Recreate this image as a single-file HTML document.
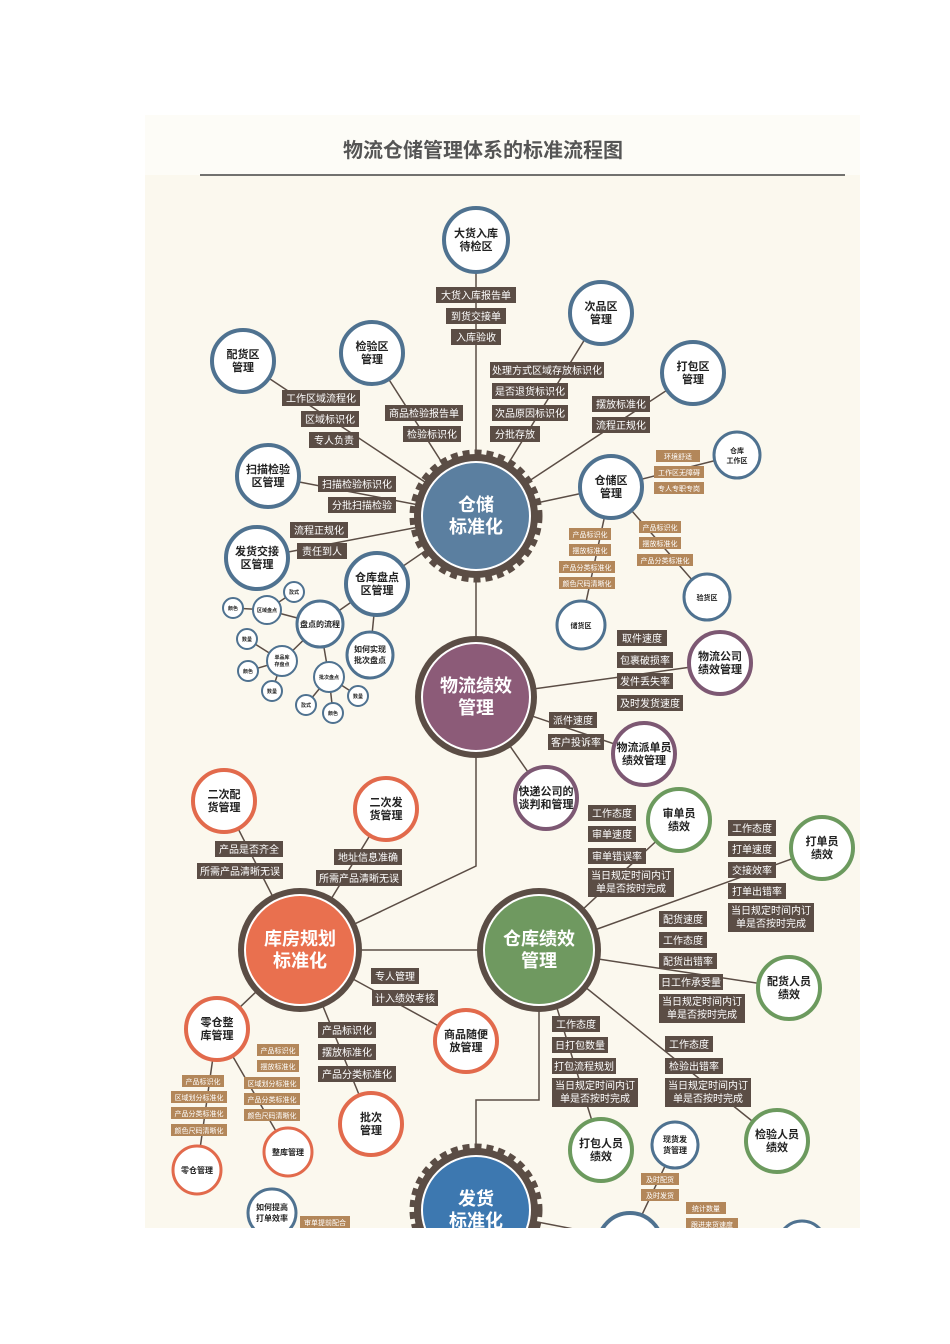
<!DOCTYPE html>
<html><head><meta charset="utf-8"><style>
html,body{margin:0;padding:0;background:#fff;width:950px;height:1344px;overflow:hidden}
svg{display:block}
text{font-family:"Liberation Sans","Noto Sans CJK SC",sans-serif;text-anchor:middle}
.lb rect{fill:#5b4d45}
.lb text{fill:#fff;font-size:10px}
.tn rect{fill:#b3875a}
.tn text{fill:#fff;font-size:7px}
.ln line,.ln polyline{stroke:#5b4d45;stroke-width:1.5;fill:none}
.s circle{fill:#fff;stroke-width:4}
.s text{fill:#222;font-size:11px;font-weight:bold}
.ss text{font-size:7px}
.b circle{stroke:#4f7290}.p circle{stroke:#7d5873}.o circle{stroke:#e26a4c}.g circle{stroke:#6c9a5e}.bb circle{stroke:#3f78ad}
.m text{fill:#fff;font-size:18px;font-weight:bold}
</style></head><body>
<svg width="950" height="1344" viewBox="0 0 950 1344">
<defs><clipPath id="c"><rect x="145" y="115" width="715" height="1113"/></clipPath></defs>
<g clip-path="url(#c)">
<rect x="145" y="115" width="715" height="1113" fill="#fbf8ee"/>
<rect x="145" y="115" width="715" height="60" fill="#fdfcf7"/>
<text x="483" y="157" style="font-size:20px;font-weight:bold;fill:#555">物流仓储管理体系的标准流程图</text>
<line x1="200" y1="175" x2="845" y2="175" stroke="#444" stroke-width="1.5"/>

<g class="ln">
<line x1="476" y1="516" x2="476" y2="240"/><line x1="476" y1="516" x2="601" y2="313"/>
<line x1="476" y1="516" x2="243" y2="361"/><line x1="476" y1="516" x2="372" y2="353"/>
<line x1="476" y1="516" x2="693" y2="373"/><line x1="476" y1="516" x2="611" y2="487"/>
<line x1="476" y1="516" x2="268" y2="476"/><line x1="476" y1="516" x2="257" y2="558"/>
<line x1="476" y1="516" x2="377" y2="584"/>
<line x1="611" y1="487" x2="737" y2="455"/><line x1="611" y1="487" x2="581" y2="625"/><line x1="611" y1="487" x2="707" y2="597"/>
<line x1="377" y1="584" x2="320" y2="624"/><line x1="377" y1="584" x2="370" y2="655"/>
<line x1="320" y1="624" x2="267" y2="610"/><line x1="267" y1="610" x2="233" y2="608"/><line x1="267" y1="610" x2="294" y2="592"/>
<line x1="320" y1="624" x2="282" y2="661"/><line x1="282" y1="661" x2="247" y2="639"/><line x1="282" y1="661" x2="248" y2="671"/><line x1="282" y1="661" x2="272" y2="691"/>
<line x1="320" y1="624" x2="329" y2="677"/><line x1="329" y1="677" x2="306" y2="705"/><line x1="329" y1="677" x2="333" y2="713"/><line x1="329" y1="677" x2="358" y2="696"/>
<line x1="476" y1="516" x2="476" y2="697"/>
<line x1="476" y1="697" x2="720" y2="663"/><line x1="476" y1="697" x2="644" y2="754"/><line x1="476" y1="697" x2="546" y2="798"/>
<polyline points="476,697 476,866 300,950"/>
<line x1="300" y1="950" x2="539" y2="950"/>
<line x1="539" y1="950" x2="679" y2="820"/><line x1="539" y1="950" x2="822" y2="848"/><line x1="539" y1="950" x2="789" y2="988"/>
<line x1="539" y1="950" x2="601" y2="1150"/><line x1="539" y1="950" x2="777" y2="1141"/>
<polyline points="539,950 539,1100 476,1100 476,1210"/>
<line x1="300" y1="950" x2="224" y2="801"/><line x1="300" y1="950" x2="386" y2="809"/><line x1="300" y1="950" x2="217" y2="1029"/>
<line x1="300" y1="950" x2="466" y2="1041"/><line x1="300" y1="950" x2="371" y2="1124"/>
<line x1="217" y1="1029" x2="288" y2="1152"/><line x1="217" y1="1029" x2="197" y2="1170"/>
<line x1="476" y1="1210" x2="630" y2="1240"/><line x1="675" y1="1145" x2="630" y2="1240"/>
</g>

<!-- main nodes -->
<g class="m">
<circle cx="476" cy="516" r="62" fill="#5b4d45"/><circle cx="476" cy="516" r="64" fill="none" stroke="#5b4d45" stroke-width="5" stroke-dasharray="7 5"/>
<circle cx="476" cy="516" r="54" fill="#5b7fa0" stroke="#fff" stroke-width="2"/>
<text x="476" y="511">仓储</text><text x="476" y="533">标准化</text>
<circle cx="476" cy="697" r="61" fill="#5b4d45"/><circle cx="476" cy="697" r="54" fill="#8c5b78" stroke="#fff" stroke-width="2"/>
<text x="476" y="692">物流绩效</text><text x="476" y="714">管理</text>
<circle cx="300" cy="950" r="62" fill="#5b4d45"/><circle cx="300" cy="950" r="55" fill="#e9704f" stroke="#fff" stroke-width="2"/>
<text x="300" y="945">库房规划</text><text x="300" y="967">标准化</text>
<circle cx="539" cy="950" r="62" fill="#5b4d45"/><circle cx="539" cy="950" r="55" fill="#6f9960" stroke="#fff" stroke-width="2"/>
<text x="539" y="945">仓库绩效</text><text x="539" y="967">管理</text>
<circle cx="476" cy="1210" r="62" fill="#5b4d45"/><circle cx="476" cy="1210" r="64" fill="none" stroke="#5b4d45" stroke-width="5" stroke-dasharray="7 5"/>
<circle cx="476" cy="1210" r="54" fill="#3d78b0" stroke="#fff" stroke-width="2"/>
<text x="476" y="1205">发货</text><text x="476" y="1227">标准化</text>
</g>

<g class="s b">
<circle cx="476" cy="240" r="32"/><text x="476" y="237">大货入库</text><text x="476" y="250">待检区</text>
<circle cx="601" cy="313" r="31"/><text x="601" y="310">次品区</text><text x="601" y="323">管理</text>
<circle cx="243" cy="361" r="31"/><text x="243" y="358">配货区</text><text x="243" y="371">管理</text>
<circle cx="372" cy="353" r="31"/><text x="372" y="350">检验区</text><text x="372" y="363">管理</text>
<circle cx="693" cy="373" r="31"/><text x="693" y="370">打包区</text><text x="693" y="383">管理</text>
<circle cx="268" cy="476" r="31"/><text x="268" y="473">扫描检验</text><text x="268" y="486">区管理</text>
<circle cx="611" cy="487" r="31"/><text x="611" y="484">仓储区</text><text x="611" y="497">管理</text>
<circle cx="257" cy="558" r="31"/><text x="257" y="555">发货交接</text><text x="257" y="568">区管理</text>
<circle cx="377" cy="584" r="31"/><text x="377" y="581">仓库盘点</text><text x="377" y="594">区管理</text>
<circle cx="320" cy="624" r="23" style="stroke-width:3"/><text x="320" y="627" style="font-size:8px">盘点的流程</text>
<circle cx="370" cy="655" r="23" style="stroke-width:3"/><text x="370" y="652" style="font-size:8px">如何实现</text><text x="370" y="663" style="font-size:8px">批次盘点</text>
<circle cx="272" cy="1213" r="24" style="stroke-width:3"/><text x="272" y="1210" style="font-size:8px">如何提高</text><text x="272" y="1221" style="font-size:8px">打单效率</text>
<circle cx="675" cy="1145" r="23" style="stroke-width:3"/><text x="675" y="1142" style="font-size:8px">现货发</text><text x="675" y="1153" style="font-size:8px">货管理</text>
<circle cx="630" cy="1245" r="32"/><circle cx="802" cy="1245" r="24" style="stroke-width:3"/>
</g>
<g class="s b ss">
<circle cx="737" cy="455" r="23" style="stroke-width:3"/><text x="737" y="453">仓库</text><text x="737" y="463">工作区</text>
<circle cx="581" cy="625" r="24" style="stroke-width:3"/><text x="581" y="628">储货区</text>
<circle cx="707" cy="597" r="23" style="stroke-width:3"/><text x="707" y="600">验货区</text>
<circle cx="294" cy="592" r="10" style="stroke-width:2"/><text x="294" y="594" style="font-size:5px">款式</text>
<circle cx="233" cy="608" r="10" style="stroke-width:2"/><text x="233" y="610" style="font-size:5px">颜色</text>
<circle cx="267" cy="610" r="14" style="stroke-width:2"/><text x="267" y="612" style="font-size:5px">区域盘点</text>
<circle cx="247" cy="639" r="10" style="stroke-width:2"/><text x="247" y="641" style="font-size:5px">数量</text>
<circle cx="282" cy="661" r="15" style="stroke-width:2"/><text x="282" y="659" style="font-size:5px">单品库</text><text x="282" y="666" style="font-size:5px">存盘点</text>
<circle cx="248" cy="671" r="10" style="stroke-width:2"/><text x="248" y="673" style="font-size:5px">颜色</text>
<circle cx="329" cy="677" r="15" style="stroke-width:2"/><text x="329" y="679" style="font-size:5px">批次盘点</text>
<circle cx="272" cy="691" r="10" style="stroke-width:2"/><text x="272" y="693" style="font-size:5px">数量</text>
<circle cx="306" cy="705" r="10" style="stroke-width:2"/><text x="306" y="707" style="font-size:5px">款式</text>
<circle cx="333" cy="713" r="10" style="stroke-width:2"/><text x="333" y="715" style="font-size:5px">颜色</text>
<circle cx="358" cy="696" r="10" style="stroke-width:2"/><text x="358" y="698" style="font-size:5px">数量</text>
</g>
<g class="s p">
<circle cx="720" cy="663" r="31"/><text x="720" y="660">物流公司</text><text x="720" y="673">绩效管理</text>
<circle cx="644" cy="754" r="31"/><text x="644" y="751">物流派单员</text><text x="644" y="764">绩效管理</text>
<circle cx="546" cy="798" r="31"/><text x="546" y="795">快递公司的</text><text x="546" y="808">谈判和管理</text>
</g>
<g class="s o">
<circle cx="224" cy="801" r="31"/><text x="224" y="798">二次配</text><text x="224" y="811">货管理</text>
<circle cx="386" cy="809" r="31"/><text x="386" y="806">二次发</text><text x="386" y="819">货管理</text>
<circle cx="217" cy="1029" r="31"/><text x="217" y="1026">零仓整</text><text x="217" y="1039">库管理</text>
<circle cx="466" cy="1041" r="31"/><text x="466" y="1038">商品随便</text><text x="466" y="1051">放管理</text>
<circle cx="371" cy="1124" r="31"/><text x="371" y="1121">批次</text><text x="371" y="1134">管理</text>
<circle cx="288" cy="1152" r="24" style="stroke-width:3"/><text x="288" y="1155" style="font-size:8px">整库管理</text>
<circle cx="197" cy="1170" r="24" style="stroke-width:3"/><text x="197" y="1173" style="font-size:8px">零仓管理</text>
</g>
<g class="s g">
<circle cx="679" cy="820" r="31"/><text x="679" y="817">审单员</text><text x="679" y="830">绩效</text>
<circle cx="822" cy="848" r="31"/><text x="822" y="845">打单员</text><text x="822" y="858">绩效</text>
<circle cx="789" cy="988" r="31"/><text x="789" y="985">配货人员</text><text x="789" y="998">绩效</text>
<circle cx="601" cy="1150" r="31"/><text x="601" y="1147">打包人员</text><text x="601" y="1160">绩效</text>
<circle cx="777" cy="1141" r="31"/><text x="777" y="1138">检验人员</text><text x="777" y="1151">绩效</text>
</g>

<g class="lb">
<rect x="436" y="287" width="80" height="16"/><text x="476" y="299">大货入库报告单</text>
<rect x="446" y="308" width="60" height="16"/><text x="476" y="320">到货交接单</text>
<rect x="451" y="329" width="50" height="16"/><text x="476" y="341">入库验收</text>
<rect x="490" y="362" width="114" height="16"/><text x="547" y="374">处理方式区域存放标识化</text>
<rect x="492" y="383" width="76" height="16"/><text x="530" y="395">是否退货标识化</text>
<rect x="492" y="405" width="76" height="16"/><text x="530" y="417">次品原因标识化</text>
<rect x="490" y="426" width="50" height="16"/><text x="515" y="438">分批存放</text>
<rect x="592" y="396" width="58" height="16"/><text x="621" y="408">摆放标准化</text>
<rect x="592" y="417" width="58" height="16"/><text x="621" y="429">流程正规化</text>
<rect x="282" y="390" width="78" height="16"/><text x="321" y="402">工作区域流程化</text>
<rect x="301" y="411" width="58" height="16"/><text x="330" y="423">区域标识化</text>
<rect x="309" y="432" width="50" height="16"/><text x="334" y="444">专人负责</text>
<rect x="385" y="405" width="78" height="16"/><text x="424" y="417">商品检验报告单</text>
<rect x="403" y="426" width="58" height="16"/><text x="432" y="438">检验标识化</text>
<rect x="318" y="476" width="78" height="16"/><text x="357" y="488">扫描检验标识化</text>
<rect x="328" y="497" width="68" height="16"/><text x="362" y="509">分批扫描检验</text>
<rect x="290" y="522" width="58" height="16"/><text x="319" y="534">流程正规化</text>
<rect x="297" y="543" width="50" height="16"/><text x="322" y="555">责任到人</text>
<rect x="617" y="630" width="50" height="16"/><text x="642" y="642">取件速度</text>
<rect x="617" y="652" width="56" height="16"/><text x="645" y="664">包裹破损率</text>
<rect x="617" y="673" width="56" height="16"/><text x="645" y="685">发件丢失率</text>
<rect x="617" y="695" width="66" height="16"/><text x="650" y="707">及时发货速度</text>
<rect x="549" y="712" width="48" height="16"/><text x="573" y="724">派件速度</text>
<rect x="548" y="734" width="56" height="16"/><text x="576" y="746">客户投诉率</text>
<rect x="588" y="805" width="48" height="16"/><text x="612" y="817">工作态度</text>
<rect x="588" y="826" width="48" height="16"/><text x="612" y="838">审单速度</text>
<rect x="588" y="848" width="58" height="16"/><text x="617" y="860">审单错误率</text>
<rect x="588" y="868" width="86" height="29"/><text x="631" y="879">当日规定时间内订</text><text x="631" y="892">单是否按时完成</text>
<rect x="728" y="820" width="48" height="16"/><text x="752" y="832">工作态度</text>
<rect x="728" y="841" width="48" height="16"/><text x="752" y="853">打单速度</text>
<rect x="728" y="862" width="48" height="16"/><text x="752" y="874">交接效率</text>
<rect x="728" y="883" width="58" height="16"/><text x="757" y="895">打单出错率</text>
<rect x="728" y="903" width="86" height="29"/><text x="771" y="914">当日规定时间内订</text><text x="771" y="927">单是否按时完成</text>
<rect x="659" y="911" width="48" height="16"/><text x="683" y="923">配货速度</text>
<rect x="659" y="932" width="48" height="16"/><text x="683" y="944">工作态度</text>
<rect x="659" y="953" width="58" height="16"/><text x="688" y="965">配货出错率</text>
<rect x="659" y="974" width="64" height="16"/><text x="691" y="986">日工作承受量</text>
<rect x="659" y="994" width="86" height="29"/><text x="702" y="1005">当日规定时间内订</text><text x="702" y="1018">单是否按时完成</text>
<rect x="552" y="1016" width="48" height="16"/><text x="576" y="1028">工作态度</text>
<rect x="552" y="1037" width="56" height="16"/><text x="580" y="1049">日打包数量</text>
<rect x="552" y="1058" width="64" height="16"/><text x="584" y="1070">打包流程规划</text>
<rect x="552" y="1078" width="86" height="29"/><text x="595" y="1089">当日规定时间内订</text><text x="595" y="1102">单是否按时完成</text>
<rect x="665" y="1036" width="48" height="16"/><text x="689" y="1048">工作态度</text>
<rect x="665" y="1058" width="58" height="16"/><text x="694" y="1070">检验出错率</text>
<rect x="665" y="1078" width="86" height="29"/><text x="708" y="1089">当日规定时间内订</text><text x="708" y="1102">单是否按时完成</text>
<rect x="215" y="841" width="68" height="16"/><text x="249" y="853">产品是否齐全</text>
<rect x="197" y="863" width="86" height="16"/><text x="240" y="875">所需产品清晰无误</text>
<rect x="334" y="849" width="68" height="16"/><text x="368" y="861">地址信息准确</text>
<rect x="316" y="870" width="86" height="16"/><text x="359" y="882">所需产品清晰无误</text>
<rect x="371" y="968" width="48" height="16"/><text x="395" y="980">专人管理</text>
<rect x="372" y="990" width="66" height="16"/><text x="405" y="1002">计入绩效考核</text>
<rect x="318" y="1022" width="58" height="16"/><text x="347" y="1034">产品标识化</text>
<rect x="318" y="1044" width="58" height="16"/><text x="347" y="1056">摆放标准化</text>
<rect x="318" y="1066" width="78" height="16"/><text x="357" y="1078">产品分类标准化</text>
</g>

<g class="tn">
<rect x="656" y="450" width="44" height="12"/><text x="678" y="459">环境舒适</text>
<rect x="654" y="466" width="50" height="12"/><text x="679" y="475">工作区无障碍</text>
<rect x="654" y="482" width="50" height="12"/><text x="679" y="491">专人专职专岗</text>
<rect x="569" y="528" width="42" height="12"/><text x="590" y="537">产品标识化</text>
<rect x="569" y="544" width="42" height="12"/><text x="590" y="553">摆放标准化</text>
<rect x="559" y="561" width="56" height="12"/><text x="587" y="570">产品分类标准化</text>
<rect x="559" y="577" width="56" height="12"/><text x="587" y="586">颜色尺码清晰化</text>
<rect x="639" y="521" width="42" height="12"/><text x="660" y="530">产品标识化</text>
<rect x="639" y="537" width="42" height="12"/><text x="660" y="546">摆放标准化</text>
<rect x="637" y="554" width="56" height="12"/><text x="665" y="563">产品分类标准化</text>
<rect x="257" y="1044" width="42" height="12"/><text x="278" y="1053">产品标识化</text>
<rect x="257" y="1060" width="42" height="12"/><text x="278" y="1069">摆放标准化</text>
<rect x="244" y="1077" width="56" height="12"/><text x="272" y="1086">区域划分标准化</text>
<rect x="244" y="1093" width="56" height="12"/><text x="272" y="1102">产品分类标准化</text>
<rect x="244" y="1109" width="56" height="12"/><text x="272" y="1118">颜色尺码清晰化</text>
<rect x="182" y="1075" width="42" height="12"/><text x="203" y="1084">产品标识化</text>
<rect x="171" y="1091" width="56" height="12"/><text x="199" y="1100">区域划分标准化</text>
<rect x="171" y="1107" width="56" height="12"/><text x="199" y="1116">产品分类标准化</text>
<rect x="171" y="1124" width="56" height="12"/><text x="199" y="1133">颜色尺码清晰化</text>
<rect x="641" y="1173" width="38" height="12"/><text x="660" y="1182">及时配货</text>
<rect x="641" y="1189" width="38" height="12"/><text x="660" y="1198">及时发货</text>
<rect x="686" y="1202" width="40" height="12"/><text x="706" y="1211">统计数量</text>
<rect x="686" y="1218" width="52" height="12"/><text x="712" y="1227">跟进来货速度</text>
<rect x="300" y="1216" width="50" height="12"/><text x="325" y="1225">审单提前配合</text>
</g>
</g>
</svg>
</body></html>
